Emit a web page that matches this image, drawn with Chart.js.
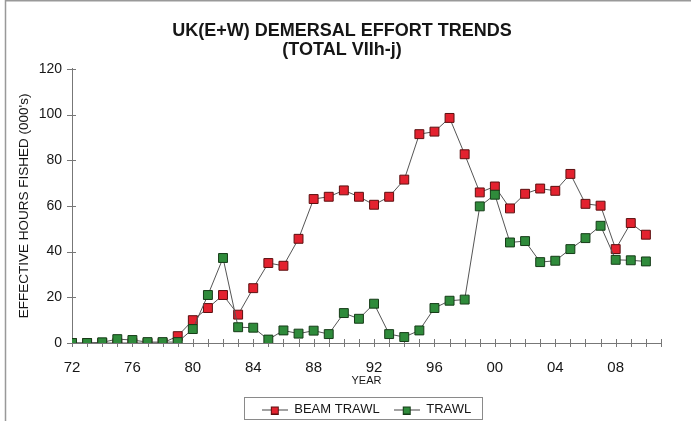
<!DOCTYPE html>
<html lang="en">
  <head>
    <meta charset="UTF-8" />
    <title>UK(E+W) Demersal Effort Trends</title>
    <script src="https://cdn.jsdelivr.net/npm/chart.js"></script>
    <style>
      html, body { margin: 0; padding: 0; background: #fff; }
      #wrap { width: 691px; height: 421px; position: relative; }
    </style>
  </head>
  <body>
    <div id="wrap"><canvas id="effortChart" width="691" height="421"></canvas></div>

    <script>
      // years 1972 - 2010
      const years = [
        1972, 1973, 1974, 1975, 1976, 1977, 1978, 1979, 1980, 1981,
        1982, 1983, 1984, 1985, 1986, 1987, 1988, 1989, 1990, 1991,
        1992, 1993, 1994, 1995, 1996, 1997, 1998, 1999, 2000, 2001,
        2002, 2003, 2004, 2005, 2006, 2007, 2008, 2009, 2010,
      ];

      // effective hours fished (000's)
      const beamTrawl = [
        0, 0, 0, 0, 0, 0, 0, 3, 10, 15.3,
        21, 12.4, 24, 35, 33.8, 45.6, 63, 64, 66.8, 64,
        60.5, 64, 71.5, 91.4, 92.5, 98.5, 82.6, 65.9, 68.5, 58.9,
        65.3, 67.6, 66.6, 74, 60.9, 60.1, 41.1, 52.5, 47.4,
      ];
      const trawl = [
        0, 0, 0.3, 1.7, 1.3, 0.4, 0.4, 0.4, 6.1, 21,
        37.2, 6.9, 6.7, 1.5, 5.5, 4.1, 5.4, 3.9, 13.1, 10.6,
        17.2, 3.9, 2.6, 5.5, 15.3, 18.5, 19, 59.8, 64.9, 44,
        44.6, 35.4, 36, 41.1, 45.9, 51.3, 36.4, 36.2, 35.7,
      ];

      const yTicks = [0, 20, 40, 60, 80, 100, 120];
      const xLabelYears = [1972, 1976, 1980, 1984, 1988, 1992, 1996, 2000, 2004, 2008];

      const redFill = "#e3222f";
      const redEdge = "#5c1010";
      const greenFill = "#2f8b3b";
      const greenEdge = "#163c18";
      const lineGrey = "#555";
      const axisGrey = "#777";
      const textCol = "#161616";
      const fam = "'Liberation Sans', Arial, Helvetica, sans-serif";

      function toPoints(vals) {
        return years.map((y, i) => ({ x: y, y: vals[i] }));
      }

      // small line+square picture for the legend
      function legendMark(fill, edge) {
        const c = document.createElement("canvas");
        c.width = 26;
        c.height = 10;
        const g = c.getContext("2d");
        g.strokeStyle = "#444";
        g.lineWidth = 1;
        g.beginPath();
        g.moveTo(0, 5.5);
        g.lineTo(26, 5.5);
        g.stroke();
        g.fillStyle = fill;
        g.fillRect(9.5, 2.5, 7, 7);
        g.strokeStyle = edge;
        g.strokeRect(9.5, 2.5, 7, 7);
        return c;
      }
      const beamMark = legendMark(redFill, redEdge);
      const trawlMark = legendMark(greenFill, greenEdge);

      // frame, crossing tick marks, box round the legend
      const decor = {
        id: "decor",
        beforeDatasetsDraw(chart) {
          const ctx = chart.ctx;
          const xs = chart.scales.x;
          const ys = chart.scales.y;
          const x0 = xs.getPixelForValue(1972);
          const y0 = ys.getPixelForValue(0);
          ctx.save();
          ctx.strokeStyle = axisGrey;
          ctx.lineWidth = 1;
          ctx.beginPath();
          for (let yr = 1972; yr <= 2011; yr++) {
            const px = Math.round(xs.getPixelForValue(yr)) + 0.5;
            ctx.moveTo(px, y0 - 4);
            ctx.lineTo(px, y0 + 4);
          }
          yTicks.forEach((v) => {
            const py = Math.round(ys.getPixelForValue(v)) + 0.5;
            ctx.moveTo(x0 - 5, py);
            ctx.lineTo(x0 + 4, py);
          });
          ctx.stroke();
          ctx.restore();
        },
        afterDraw(chart) {
          const ctx = chart.ctx;
          ctx.save();
          ctx.strokeStyle = "#999";
          ctx.lineWidth = 1.5;
          ctx.beginPath();
          ctx.moveTo(5.5, 0);
          ctx.lineTo(5.5, 421);
          ctx.moveTo(5, 0.75);
          ctx.lineTo(691, 0.75);
          ctx.stroke();

          const boxes = chart.legend.legendHitBoxes;
          if (boxes && boxes.length) {
            const l = Math.min(...boxes.map((b) => b.left));
            const r = Math.max(...boxes.map((b) => b.left + b.width));
            const cy = boxes[0].top + boxes[0].height / 2;
            const top = Math.min(Math.round(cy - 12), 421 - 24);
            ctx.strokeStyle = "#8a8a8a";
            ctx.lineWidth = 1;
            ctx.strokeRect(Math.round(l - 18) + 0.5, top + 0.5, Math.round(r - l + 29), 22);
          }
          ctx.restore();
        },
      };

      const ctx = document.getElementById("effortChart").getContext("2d");

      new Chart(ctx, {
        type: "line",
        data: {
          datasets: [
            {
              label: "BEAM TRAWL",
              data: toPoints(beamTrawl),
              borderColor: lineGrey,
              borderWidth: 1,
              pointStyle: "rect",
              pointRadius: 6.3,
              pointBackgroundColor: redFill,
              pointBorderColor: redEdge,
              pointBorderWidth: 1,
              tension: 0,
              order: 1,
            },
            {
              label: "TRAWL",
              data: toPoints(trawl),
              borderColor: lineGrey,
              borderWidth: 1,
              pointStyle: "rect",
              pointRadius: 6.3,
              pointBackgroundColor: greenFill,
              pointBorderColor: greenEdge,
              pointBorderWidth: 1,
              tension: 0,
              order: 0,
            },
          ],
        },
        options: {
          responsive: false,
          animation: false,
          layout: { padding: { left: 0, right: 7, top: 0, bottom: -5 } },
          plugins: {
            tooltip: { enabled: false },
            title: {
              display: true,
              text: ["UK(E+W) DEMERSAL EFFORT TRENDS", "(TOTAL VIIh-j)"],
              color: textCol,
              font: { family: fam, size: 18, weight: "bold", lineHeight: 1.05 },
              padding: { top: 22, bottom: 9 },
            },
            legend: {
              position: "bottom",
              fullSize: false,
              labels: {
                color: textCol,
                font: { family: fam, size: 13 },
                usePointStyle: true,
                pointStyleWidth: 26,
                boxHeight: 10,
                padding: 14,
                sort: (a, b) => a.datasetIndex - b.datasetIndex,
                generateLabels: (chart) =>
                  chart.data.datasets.map((ds, i) => ({
                    text: ds.label,
                    pointStyle: i === 0 ? beamMark : trawlMark,
                    fillStyle: "transparent",
                    strokeStyle: "transparent",
                    lineWidth: 0,
                    fontColor: textCol,
                    datasetIndex: i,
                    hidden: false,
                  })),
              },
            },
          },
          scales: {
            x: {
              type: "linear",
              min: 1972,
              max: 2011,
              afterFit: (s) => { s.height = 46; },
              afterBuildTicks: (s) => {
                s.ticks = xLabelYears.map((v) => ({ value: v }));
              },
              grid: { display: false },
              border: { display: true, color: axisGrey, width: 1 },
              ticks: {
                autoSkip: false,
                maxRotation: 0,
                padding: 9,
                color: textCol,
                font: { family: fam, size: 15, lineHeight: 1 },
                callback: (v) => String(v).slice(2),
              },
              title: {
                display: true,
                text: "YEAR",
                color: textCol,
                font: { family: fam, size: 11, lineHeight: 1 },
                padding: { top: 0, bottom: 2.5 },
              },
            },
            y: {
              min: 0,
              max: 120,
              afterFit: (s) => { s.width = 72; },
              afterBuildTicks: (s) => {
                s.ticks = yTicks.map((v) => ({ value: v }));
              },
              grid: { display: false },
              border: { display: true, color: axisGrey, width: 1 },
              ticks: {
                padding: 2,
                color: textCol,
                font: { family: fam, size: 14 },
              },
              title: {
                display: true,
                text: "EFFECTIVE HOURS FISHED (000's)",
                color: textCol,
                font: { family: fam, size: 13.5, lineHeight: 1.2 },
                padding: { top: 16, bottom: 0 },
              },
            },
            // empty right-hand spacer so the title centres on the whole page
            spacer: {
              position: "right",
              afterFit: (s) => { s.width = 23; },
              grid: { display: false },
              border: { display: false },
              ticks: { display: false },
            },
          },
        },
        plugins: [decor],
      });
    </script>
  </body>
</html>
